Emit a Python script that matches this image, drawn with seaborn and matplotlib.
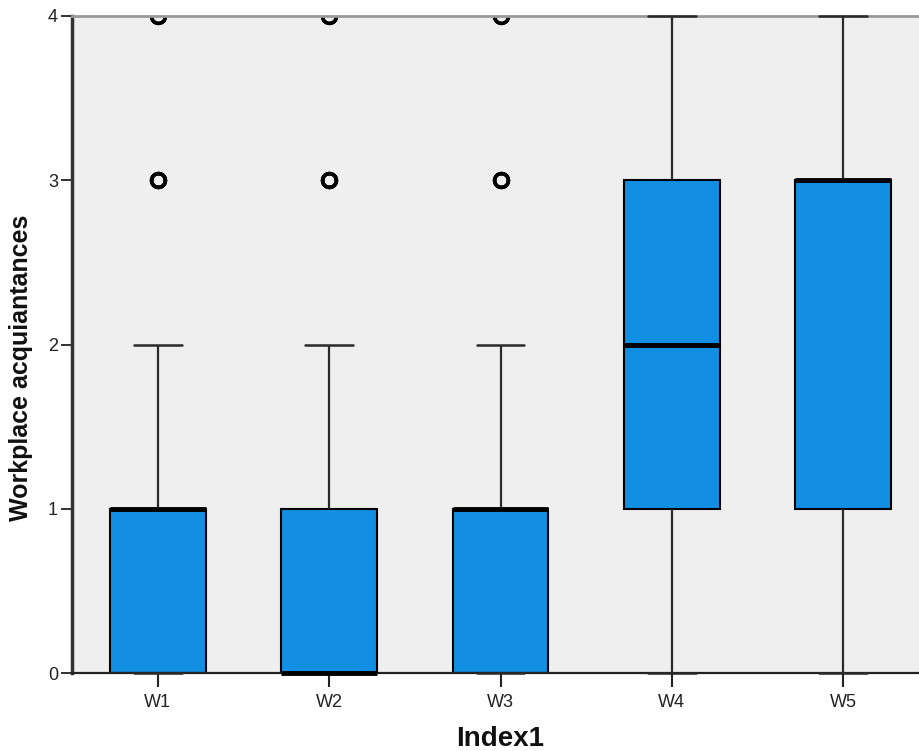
import matplotlib
matplotlib.use("Agg")
import matplotlib.pyplot as plt
import seaborn as sns
import numpy as np
import pandas as pd

# ---- data (counts of respondents per answer value 0..4, per index) ----
categories = ["W1", "W2", "W3", "W4", "W5"]
answer_values = [0, 1, 2, 3, 4]
counts_W1 = [30, 45, 12, 6, 3]
counts_W2 = [50, 25, 12, 6, 3]
counts_W3 = [32, 44, 12, 5, 3]
counts_W4 = [10, 20, 30, 24, 12]
counts_W5 = [8, 20, 18, 35, 15]
yticks = [0, 1, 2, 3, 4]
xlabel = "Index1"
ylabel = "Workplace acquiantances"

all_counts = [counts_W1, counts_W2, counts_W3, counts_W4, counts_W5]
rows = []
for cat, cnts in zip(categories, all_counts):
    vals = np.repeat(answer_values, cnts)
    rows.append(pd.DataFrame({"Index1": cat, "value": vals}))
df = pd.concat(rows, ignore_index=True)

sns.set_style("white")
plt.rcParams["font.family"] = ["Liberation Sans", "DejaVu Sans"]

box_color = "#128ee2"
fig = plt.figure(figsize=(9.2, 7.51), dpi=100)
ax = fig.add_axes([72 / 920, 78 / 751, 857 / 920, 657 / 751])

sns.boxplot(
    data=df, x="Index1", y="value", order=categories, ax=ax,
    width=0.56, color=box_color, saturation=1, linecolor="black", linewidth=1.5,
    fliersize=10,
    boxprops=dict(edgecolor="black", linewidth=1.5),
    medianprops=dict(color="black", linewidth=3.5),
    whiskerprops=dict(color="#2a2a2a", linewidth=1.6),
    capprops=dict(color="#2a2a2a", linewidth=1.8),
    flierprops=dict(marker="o", markerfacecolor="none", markeredgecolor="black",
                    markeredgewidth=2.4, markersize=10),
)

# let medians / caps lying on the frame show fully (as in the reference)
for ln in ax.lines:
    if ln.get_linestyle() not in ("None", "none", ""):
        ln.set_clip_on(False)
        ln.set_zorder(5)

ax.set_facecolor("#efefef")
ax.set_xlim(-0.5, 4.5)
ax.set_ylim(0, 4)
ax.set_yticks(yticks)
ax.set_yticklabels([str(t) for t in yticks])

ax.spines["right"].set_visible(False)
ax.spines["top"].set_color("#9a9a9a")
ax.spines["top"].set_linewidth(2)
ax.spines["left"].set_color("#333333")
ax.spines["left"].set_linewidth(2.5)
ax.spines["bottom"].set_color("#222222")
ax.spines["bottom"].set_linewidth(1.6)

ax.tick_params(axis="y", length=8, width=1.3, pad=2, labelsize=13,
               colors="#222222", left=True)
ax.tick_params(axis="x", length=10, width=1.5, pad=5, labelsize=13,
               colors="#222222", bottom=True)

ax.set_xlabel(xlabel, fontsize=20, fontweight="bold", color="#111111")
ax.xaxis.set_label_coords(0.5, -0.080)
ax.set_ylabel(ylabel, fontsize=18, fontweight="bold", color="#111111")
ax.yaxis.set_label_coords(-0.046, 0.464)

fig.savefig("out.png", dpi=100)
